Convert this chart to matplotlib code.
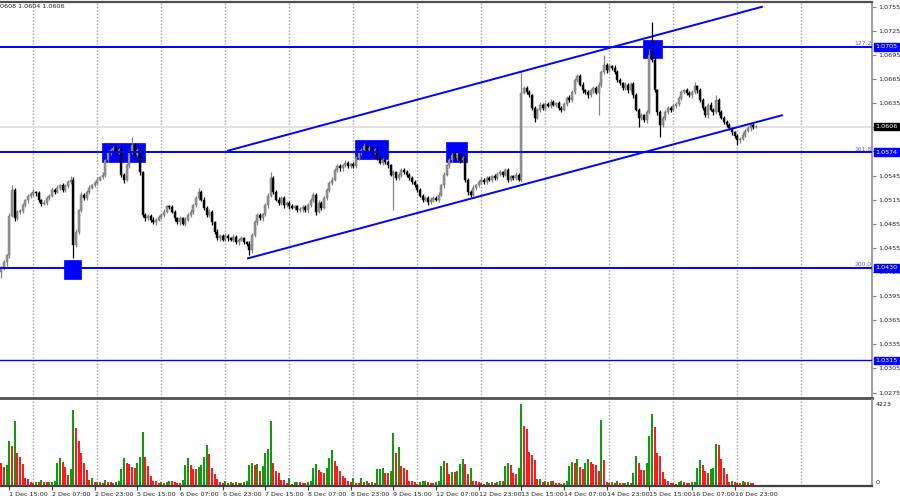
import matplotlib
matplotlib.use("Agg")
import matplotlib.pyplot as plt
from matplotlib.patches import Rectangle
from matplotlib import font_manager
import numpy as np

# ---------------- data ----------------
first_open = 1.0425
closes = [
    1.0430, 1.0437, 1.0446, 1.0495, 1.0527, 1.0492, 1.0500, 1.0501, 1.0508, 1.0514, 1.0519, 1.0522, 1.0524, 1.0523, 1.0514, 1.0510,
    1.0511, 1.0517, 1.0520, 1.0527, 1.0525, 1.0530, 1.0533, 1.0527, 1.0532, 1.0537, 1.0540, 1.0459, 1.0475, 1.0502, 1.0521, 1.0517,
    1.0525, 1.0530, 1.0533, 1.0536, 1.0540, 1.0543, 1.0546, 1.0564, 1.0574, 1.0577, 1.0579, 1.0574, 1.0577, 1.0546, 1.0540, 1.0558,
    1.0574, 1.0583, 1.0571, 1.0577, 1.0549, 1.0496, 1.0492, 1.0495, 1.0490, 1.0487, 1.0490, 1.0493, 1.0496, 1.0500, 1.0507, 1.0506,
    1.0500, 1.0492, 1.0487, 1.0492, 1.0485, 1.0490, 1.0496, 1.0500, 1.0508, 1.0517, 1.0525, 1.0515, 1.0505, 1.0496, 1.0500, 1.0487,
    1.0475, 1.0467, 1.0470, 1.0465, 1.0470, 1.0467, 1.0465, 1.0469, 1.0462, 1.0465, 1.0467, 1.0462, 1.0460, 1.0452, 1.0471, 1.0487,
    1.0496, 1.0492, 1.0497, 1.0508, 1.0520, 1.0542, 1.0525, 1.0515, 1.0511, 1.0517, 1.0508, 1.0511, 1.0507, 1.0505, 1.0507, 1.0502,
    1.0503, 1.0506, 1.0502, 1.0508, 1.0515, 1.0521, 1.0500, 1.0511, 1.0505, 1.0517, 1.0527, 1.0536, 1.0540, 1.0552, 1.0557, 1.0554,
    1.0558, 1.0561, 1.0557, 1.0559, 1.0557, 1.0567, 1.0574, 1.0577, 1.0582, 1.0577, 1.0579, 1.0574, 1.0577, 1.0567, 1.0561, 1.0564,
    1.0562, 1.0558, 1.0546, 1.0549, 1.0542, 1.0546, 1.0552, 1.0549, 1.0546, 1.0542, 1.0537, 1.0533, 1.0527, 1.0520, 1.0515, 1.0517,
    1.0512, 1.0515, 1.0517, 1.0515, 1.0521, 1.0533, 1.0546, 1.0558, 1.0564, 1.0571, 1.0567, 1.0573, 1.0564, 1.0567, 1.0540, 1.0525,
    1.0521, 1.0530, 1.0533, 1.0537, 1.0540, 1.0537, 1.0542, 1.0540, 1.0544, 1.0542, 1.0547, 1.0549, 1.0546, 1.0552, 1.0540, 1.0544,
    1.0542, 1.0546, 1.0540, 1.0648, 1.0654, 1.0649, 1.0645, 1.0629, 1.0617, 1.0627, 1.0633, 1.0629, 1.0634, 1.0632, 1.0637, 1.0633,
    1.0635, 1.0629, 1.0627, 1.0634, 1.0642, 1.0639, 1.0649, 1.0664, 1.0669, 1.0658, 1.0651, 1.0649, 1.0645, 1.0651, 1.0654, 1.0648,
    1.0658, 1.0674, 1.0683, 1.0676, 1.0681, 1.0679, 1.0674, 1.0664, 1.0660, 1.0654, 1.0658, 1.0651, 1.0659, 1.0645, 1.0627, 1.0617,
    1.0620, 1.0614, 1.0624, 1.0695, 1.0689, 1.0651, 1.0624, 1.0608, 1.0617, 1.0624, 1.0629, 1.0627, 1.0632, 1.0634, 1.0642, 1.0649,
    1.0651, 1.0648, 1.0645, 1.0649, 1.0656, 1.0651, 1.0639, 1.0629, 1.0620, 1.0633, 1.0627, 1.0624, 1.0639, 1.0624, 1.0617, 1.0612,
    1.0608, 1.0604, 1.0599, 1.0594, 1.0589, 1.0591, 1.0596, 1.0601, 1.0604, 1.0608, 1.0605, 1.0606,
]
# upper / lower shadow lengths in pips
wick_up_pips = [
    2, 3, 2, 3, 6, 3, 2, 2, 3, 2, 3, 2, 4, 2, 3, 2,
    3, 2, 2, 4, 2, 3, 2, 3, 2, 3, 4, 3, 3, 2, 3, 2,
    2, 3, 2, 2, 3, 2, 3, 2, 3, 2, 3, 4, 2, 3, 2, 3,
    3, 10, 3, 2, 3, 2, 3, 2, 2, 3, 2, 3, 2, 3, 2, 2,
    3, 2, 2, 3, 2, 3, 2, 3, 2, 3, 4, 2, 3, 2, 3, 2,
    2, 3, 2, 2, 3, 2, 2, 3, 2, 2, 3, 2, 2, 3, 2, 3,
    2, 3, 2, 3, 3, 7, 3, 2, 3, 2, 3, 2, 2, 3, 2, 2,
    3, 2, 2, 3, 2, 3, 2, 3, 2, 3, 3, 2, 3, 2, 3, 2,
    2, 3, 2, 2, 3, 2, 3, 2, 3, 2, 3, 2, 2, 3, 2, 3,
    2, 3, 2, 3, 2, 3, 2, 2, 3, 2, 2, 3, 2, 3, 2, 2,
    2, 3, 2, 2, 3, 2, 3, 2, 3, 4, 2, 3, 3, 2, 3, 2,
    2, 3, 2, 2, 3, 2, 2, 3, 2, 3, 2, 3, 2, 3, 2, 2,
    2, 3, 2, 26, 3, 2, 3, 2, 3, 2, 3, 2, 3, 2, 3, 2,
    2, 3, 2, 3, 2, 3, 2, 3, 3, 2, 3, 2, 3, 2, 3, 2,
    3, 3, 12, 2, 3, 2, 3, 2, 3, 2, 3, 2, 3, 2, 3, 2,
    3, 2, 3, 7, 41, 3, 2, 3, 2, 3, 2, 3, 2, 3, 2, 3,
    2, 3, 2, 3, 5, 2, 3, 2, 3, 2, 3, 2, 6, 2, 3, 2,
    2, 3, 2, 2, 3, 2, 3, 2, 3, 2, 2, 2,
]
wick_dn_pips = [
    8, 3, 4, 3, 2, 3, 2, 3, 2, 2, 3, 2, 2, 3, 2, 3,
    2, 3, 2, 2, 3, 2, 3, 2, 3, 2, 2, 16, 3, 3, 2, 3,
    2, 3, 2, 2, 3, 2, 2, 3, 2, 3, 2, 3, 2, 3, 4, 2,
    3, 2, 3, 2, 3, 3, 3, 2, 3, 2, 3, 2, 2, 3, 2, 3,
    2, 3, 2, 3, 2, 3, 2, 2, 3, 2, 3, 2, 3, 2, 3, 3,
    3, 2, 3, 2, 2, 3, 2, 3, 2, 3, 2, 2, 3, 6, 3, 2,
    3, 2, 3, 2, 3, 2, 3, 2, 3, 2, 3, 2, 3, 2, 3, 2,
    2, 3, 2, 3, 2, 3, 4, 2, 3, 2, 3, 2, 3, 2, 2, 3,
    3, 2, 3, 2, 2, 3, 2, 3, 2, 3, 2, 3, 2, 3, 2, 3,
    2, 3, 2, 44, 3, 2, 3, 2, 3, 2, 3, 2, 3, 2, 3, 2,
    3, 2, 3, 2, 3, 2, 3, 2, 3, 2, 3, 2, 3, 2, 3, 4,
    3, 2, 3, 2, 3, 2, 3, 2, 3, 2, 3, 2, 3, 2, 3, 2,
    2, 3, 2, 3, 2, 3, 2, 3, 5, 2, 3, 2, 3, 2, 3, 2,
    3, 2, 3, 2, 3, 2, 3, 2, 3, 2, 3, 2, 3, 2, 3, 2,
    27, 3, 2, 3, 2, 3, 2, 3, 2, 3, 2, 3, 2, 3, 2, 11,
    3, 2, 3, 2, 3, 2, 3, 15, 2, 3, 2, 3, 2, 3, 2, 3,
    2, 3, 2, 3, 2, 3, 2, 3, 2, 3, 2, 3, 2, 3, 2, 3,
    3, 2, 3, 2, 6, 3, 2, 3, 2, 3, 2, 1,
]
volumes = [
    1134, 959, 1046, 2320, 2040, 3348, 1657, 1482, 1099, 349, 330, 140, 130, 174, 140, 244,
    174, 140, 150, 174, 209, 1168, 1430, 1221, 959, 523, 837, 3924, 2965, 2320, 1692, 1134,
    785, 262, 349, 140, 150, 140, 130, 244, 174, 140, 87, 140, 209, 837, 1395, 1168,
    1099, 924, 910, 1168, 1448, 2790, 1448, 1012, 471, 227, 215, 87, 140, 105, 140, 209,
    200, 140, 130, 122, 262, 1046, 1395, 1046, 837, 820, 924, 1046, 1448, 2075, 1622, 907,
    576, 314, 174, 87, 209, 105, 140, 130, 140, 87, 105, 140, 209, 1046, 1168, 1046,
    1099, 732, 994, 1692, 1884, 3366, 1168, 732, 610, 262, 250, 87, 349, 35, 140, 174,
    140, 130, 105, 140, 209, 907, 1099, 767, 698, 610, 907, 1395, 1831, 1273, 994, 732,
    488, 349, 209, 140, 349, 87, 80, 349, 140, 209, 87, 140, 130, 837, 850, 872,
    645, 630, 750, 2738, 1657, 1971, 994, 907, 785, 209, 200, 140, 52, 140, 209, 220,
    140, 105, 100, 140, 209, 994, 1273, 1168, 593, 698, 690, 732, 1099, 1343, 1099, 593,
    872, 209, 200, 140, 87, 35, 140, 130, 140, 130, 140, 209, 200, 1012, 1168, 1046,
    645, 576, 872, 4223, 3104, 2912, 1709, 1570, 1308, 296, 331, 140, 209, 174, 209, 200,
    122, 87, 35, 87, 209, 994, 1221, 1134, 1360, 959, 837, 1168, 1360, 1221, 1099, 1046,
    732, 3400, 1308, 140, 87, 140, 130, 209, 122, 115, 122, 140, 130, 645, 1517, 1168,
    785, 770, 1134, 2581, 3715, 3017, 1657, 1517, 663, 296, 227, 87, 80, 75, 140, 227,
    140, 87, 80, 140, 150, 872, 1290, 1046, 732, 645, 820, 872, 2128, 2100, 1360, 872,
    576, 140, 209, 140, 130, 87, 209, 140, 150, 87, 80, 20,
]
time_labels = ["1 Dec 15:00", "2 Dec 07:00", "2 Dec 23:00", "5 Dec 15:00", "6 Dec 07:00",
               "6 Dec 23:00", "7 Dec 15:00", "8 Dec 07:00", "8 Dec 23:00", "9 Dec 15:00",
               "12 Dec 07:00", "12 Dec 23:00", "13 Dec 15:00", "14 Dec 07:00", "14 Dec 23:00",
               "15 Dec 15:00", "16 Dec 07:00", "16 Dec 23:00"]
first_label_bar = 3
bars_per_label = 16
first_grid_bar = 12
bars_per_grid = 24
last_grid_bar = 300
price_ticks = [1.0275, 1.0305, 1.0335, 1.0365, 1.0395, 1.0425, 1.0455, 1.0485, 1.0515,
               1.0545, 1.0575, 1.0605, 1.0635, 1.0665, 1.0695, 1.0725, 1.0755]
hidden_tick_labels = [1.0575, 1.0605]
fib_levels = [1.0705, 1.0574, 1.0430]
fib_names = ["127.2", "161.8", "200.0"]
extra_level = 1.0315
current_price = 1.0606
header_text = "0608 1.0604 1.0606"
vol_max_label = 4223
channel_upper_x = [85.0, 285.2]
channel_upper_p = [1.0576, 1.0755]
channel_lower_x = [92.5, 292.7]
channel_lower_p = [1.0442, 1.0620]
# blue marker squares: bar from, bar to, price low, price high
zone_bar0 = [23.5, 37.7, 132.6, 166.7, 240.6]
zone_bar1 = [29.9, 53.9, 145.0, 174.6, 247.7]
zone_plo = [1.0416, 1.0562, 1.0566, 1.0562, 1.0691]
zone_phi = [1.0440, 1.0586, 1.0589, 1.0587, 1.0714]

# ---------------- fonts ----------------
try:
    font_manager.findfont(font_manager.FontProperties(family="Liberation Sans Narrow"),
                          fallback_to_default=False)
    FAM, FS = "Liberation Sans Narrow", 6.3
except Exception:
    FAM, FS = "DejaVu Sans", 4.6
plt.rcParams["font.family"] = [FAM, "DejaVu Sans"]

# ---------------- figure ----------------
W, H = 900, 500
fig = plt.figure(figsize=(W / 100, H / 100), dpi=100)
fig.patch.set_facecolor("white")

def fy(py):
    return 1 - py / H

ax = fig.add_axes([0, fy(398), 872 / W, (398 - 2) / H])
axv = fig.add_axes([0, fy(486), 872 / W, (486 - 400) / H], sharex=ax)

n = len(closes)
x = np.arange(n)
c = np.array(closes)
o = np.concatenate([[first_open], c[:-1]])
top = np.maximum(o, c)
bot = np.minimum(o, c)
hi = top + np.array(wick_up_pips) * 0.0001
lo = bot - np.array(wick_dn_pips) * 0.0001
up = c >= o

bull_col = "#9a9a9a"
ax.vlines(x[up], lo[up], hi[up], color="#858585", lw=0.9, zorder=3)
ax.vlines(x[~up], lo[~up], hi[~up], color="black", lw=0.9, zorder=3)
body_h = np.maximum(top - bot, 0.00003)
ax.bar(x[up], body_h[up], bottom=bot[up], width=0.8, color=bull_col,
       edgecolor="#606060", linewidth=0.3, zorder=4)
ax.bar(x[~up], body_h[~up], bottom=bot[~up], width=0.8, color="black",
       edgecolor="black", linewidth=0.3, zorder=4)

ax.set_xlim(-0.5, 326.5)
ax.set_ylim(1.02682, 1.07610)

# grid
grid_bars = np.arange(first_grid_bar, last_grid_bar + 1, bars_per_grid)
for a in (ax, axv):
    for g in grid_bars:
        a.axvline(g, color="#a8a8a8", lw=1.0, ls=(0, (1.2, 1.2)), zorder=0)

# current price line
ax.axhline(current_price, color="#dcdcdc", lw=1.2, zorder=1)

# blue zones
for b0, b1, p0, p1 in zip(zone_bar0, zone_bar1, zone_plo, zone_phi):
    ax.add_patch(Rectangle((b0, p0), b1 - b0, p1 - p0, facecolor="#0000ff",
                           edgecolor="#0000ff", lw=0.5, zorder=2))

# levels
blue = "#0000ff"
for lev, name in zip(fib_levels, fib_names):
    ax.axhline(lev, color=blue, lw=1.4, zorder=5)
    ax.text(326.4, lev + 0.00008, name, color="#5a5aff", fontsize=FS * 0.95,
            ha="right", va="bottom", zorder=6)
ax.axhline(extra_level, color=blue, lw=1.0, zorder=5)

# channel
ax.plot(channel_upper_x, channel_upper_p, color=blue, lw=1.4, zorder=5)
ax.plot(channel_lower_x, channel_lower_p, color=blue, lw=1.4, zorder=5)

# axes styling main
ax.spines["left"].set_visible(False)
ax.spines["top"].set_color("#505050")
ax.spines["top"].set_linewidth(1.6)
ax.spines["bottom"].set_color("#505050")
ax.spines["bottom"].set_linewidth(2.0)
ax.spines["right"].set_color("#a0a0a0")
ax.spines["right"].set_linewidth(1.5)
ax.yaxis.tick_right()
ax.set_yticks(price_ticks)
ax.set_yticklabels(["" if p in hidden_tick_labels else f"{p:.4f}" for p in price_ticks])
ax.tick_params(axis="y", which="both", direction="out", length=3, width=0.8,
               color="#808080", pad=1.5, labelsize=FS, labelcolor="#202020")
ax.tick_params(axis="x", which="both", bottom=False, labelbottom=False)

# price boxes
def price_box(p, fc):
    ax.annotate(f"{p:.4f}", xy=(1.0, p), xycoords=("axes fraction", "data"),
                xytext=(2.3, 0), textcoords="offset points", fontsize=FS,
                color="white", va="center", ha="left", zorder=10,
                bbox=dict(boxstyle="square,pad=0.2", fc=fc, ec=fc),
                annotation_clip=False)

for lev in fib_levels:
    price_box(lev, blue)
price_box(extra_level, blue)
price_box(current_price, "black")

# header
fig.text(0.0, fy(7), header_text, fontsize=FS, color="#202020", va="center", ha="left")

# ---------------- volumes ----------------
vols = np.array(volumes)
prev = np.concatenate([[vols[0] + 1], vols[:-1]])
vcol = np.where(vols > prev, "#109a10", "#ff1a1a")
axv.bar(x, vols, width=0.75, color=vcol, linewidth=0, zorder=3)
axv.set_ylim(-52, 4446)
axv.spines["left"].set_visible(False)
axv.spines["top"].set_visible(False)
axv.spines["bottom"].set_color("#404040")
axv.spines["bottom"].set_linewidth(1.6)
axv.spines["right"].set_color("#a0a0a0")
axv.spines["right"].set_linewidth(1.5)
axv.set_yticks([])
axv.text(1.004, vol_max_label, f"{vol_max_label}", transform=axv.get_yaxis_transform(),
         fontsize=FS, va="center", ha="left", color="#202020")
axv.text(1.004, 0, "0", transform=axv.get_yaxis_transform(),
         fontsize=FS, va="bottom", ha="left", color="#202020")

label_bars = [first_label_bar + bars_per_label * k for k in range(len(time_labels))]
axv.set_xticks(label_bars)
axv.set_xticklabels(time_labels)
axv.tick_params(axis="x", direction="out", length=3, width=0.8, color="#404040",
                pad=1.2, labelsize=FS, labelcolor="#202020")
for lbl in axv.get_xticklabels():
    lbl.set_ha("left")

fig.savefig("out.png", dpi=100, facecolor="white")
